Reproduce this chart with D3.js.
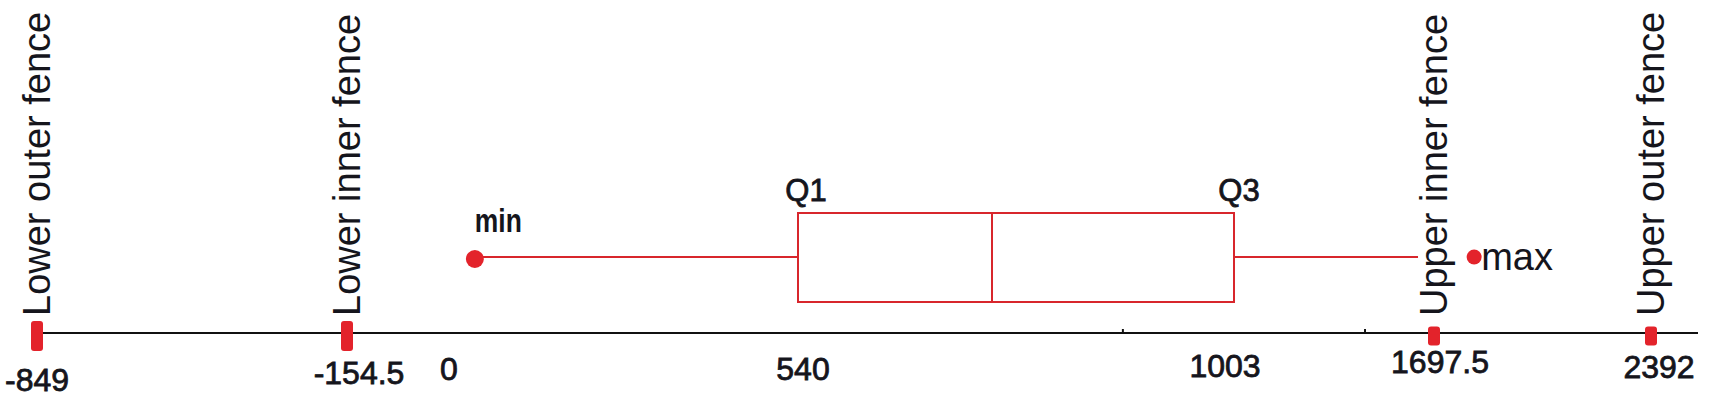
<!DOCTYPE html>
<html>
<head>
<meta charset="utf-8">
<script src="https://cdn.jsdelivr.net/npm/d3@7/dist/d3.min.js"></script>
<style>
  html, body { margin: 0; padding: 0; background: #ffffff; }
  svg { display: block; }
  text { font-family: "Liberation Sans", Arial, sans-serif; fill: #15151c; }
  .heavy { stroke: #15151c; stroke-width: 0.8px; }
</style>
</head>
<body>
<svg id="chart" width="1709" height="400"></svg>
<script>
// ---------- data ----------
const fenceNames  = ["Lower outer fence", "Lower inner fence", "Upper inner fence", "Upper outer fence"];
const fenceValues = [-849, -154.5, 1697.5, 2392];

const tickValues = [-849, -154.5, 0, 540, 1003, 1697.5, 2392];
const tickLabels = ["-849", "-154.5", "0", "540", "1003", "1697.5", "2392"];

const summaryNames  = ["min", "Q1", "median", "Q3", "upper whisker", "max"];
const summaryValues = [40, 540, 746, 1003, 1642, 1826];

const minorTickValues = [885, 1458];

// ---------- layout (schematic, non-linear axis) ----------
const W = 1709, H = 400;
const axisY = 333;
const axisStopX = [37, 347, 449, 798, 1234, 1434, 1651];   // pixel stops for tickValues
const labelNudgeX = [0, 12, 0, 5, -9, 6, 8];
const labelBaseY  = [391, 384, 380, 380, 377, 373, 378];
const fenceMarkerH = [30, 30, 19, 19];
const boxTop = 213, boxBottom = 302, whiskerY = 257;
const red = "#e3232b", boxRed = "#d8262c";

const x = d3.scaleLinear().domain(tickValues).range(axisStopX);
const y = d3.scaleLinear().domain([0, 1]).range([boxBottom, boxTop]);

const svg = d3.select("#chart");
const stat = n => summaryValues[summaryNames.indexOf(n)];

// axis line
svg.append("line")
  .attr("x1", x(tickValues[0])).attr("x2", W - 11)
  .attr("y1", axisY).attr("y2", axisY)
  .attr("stroke", "#111").attr("stroke-width", 2);

// minor ticks
svg.selectAll(".minor").data(minorTickValues).join("line")
  .attr("x1", d => x(d)).attr("x2", d => x(d))
  .attr("y1", axisY - 4).attr("y2", axisY)
  .attr("stroke", "#111").attr("stroke-width", 2);

// tick labels
svg.selectAll(".tl").data(tickValues).join("text")
  .attr("class", "heavy")
  .attr("x", (d, i) => x(d) + labelNudgeX[i])
  .attr("y", (d, i) => labelBaseY[i])
  .attr("text-anchor", "middle")
  .style("font-size", "32px")
  .text((d, i) => tickLabels[i]);

// fence markers
svg.selectAll(".fm").data(fenceValues).join("rect")
  .attr("x", d => x(d) - 6)
  .attr("y", (d, i) => axisY + 3 - fenceMarkerH[i] / 2)
  .attr("width", 12)
  .attr("height", (d, i) => fenceMarkerH[i])
  .attr("rx", 3).attr("ry", 3)
  .attr("fill", red);

// fence labels (rotated)
svg.selectAll(".fl").data(fenceValues).join("text")
  .attr("transform", d => `translate(${x(d) + 13},316) rotate(-90)`)
  .attr("text-anchor", "start")
  .style("font-size", "38px")
  .text((d, i) => fenceNames[i]);

// whiskers
svg.append("line")
  .attr("x1", x(stat("min"))).attr("x2", x(stat("Q1")))
  .attr("y1", whiskerY).attr("y2", whiskerY)
  .attr("stroke", boxRed).attr("stroke-width", 2);
svg.append("line")
  .attr("x1", x(stat("Q3"))).attr("x2", x(stat("upper whisker")))
  .attr("y1", whiskerY).attr("y2", whiskerY)
  .attr("stroke", boxRed).attr("stroke-width", 2);

// box
svg.append("rect")
  .attr("x", x(stat("Q1"))).attr("y", y(1))
  .attr("width", x(stat("Q3")) - x(stat("Q1")))
  .attr("height", y(0) - y(1))
  .attr("fill", "none").attr("stroke", boxRed).attr("stroke-width", 2);
svg.append("line")
  .attr("x1", x(stat("median"))).attr("x2", x(stat("median")))
  .attr("y1", y(1)).attr("y2", y(0))
  .attr("stroke", boxRed).attr("stroke-width", 2);

// min / max dots
svg.append("circle").attr("cx", x(stat("min"))).attr("cy", whiskerY + 2).attr("r", 9).attr("fill", red);
svg.append("circle").attr("cx", x(stat("max"))).attr("cy", whiskerY).attr("r", 7.5).attr("fill", red);

// labels
svg.append("text")
  .attr("x", x(stat("min"))).attr("y", 232)
  .attr("textLength", 47).attr("lengthAdjust", "spacingAndGlyphs")
  .style("font-size", "33px").style("font-weight", "bold")
  .text("min");
svg.append("text")
  .attr("x", x(stat("max")) + 7).attr("y", whiskerY + 13)
  .style("font-size", "38px")
  .text("max");
svg.append("text")
  .attr("class", "heavy")
  .attr("x", x(stat("Q1")) + 8).attr("y", 201)
  .attr("text-anchor", "middle")
  .style("font-size", "31px")
  .text("Q1");
svg.append("text")
  .attr("class", "heavy")
  .attr("x", x(stat("Q3")) + 5).attr("y", 201)
  .attr("text-anchor", "middle")
  .style("font-size", "31px")
  .text("Q3");
</script>
</body>
</html>
